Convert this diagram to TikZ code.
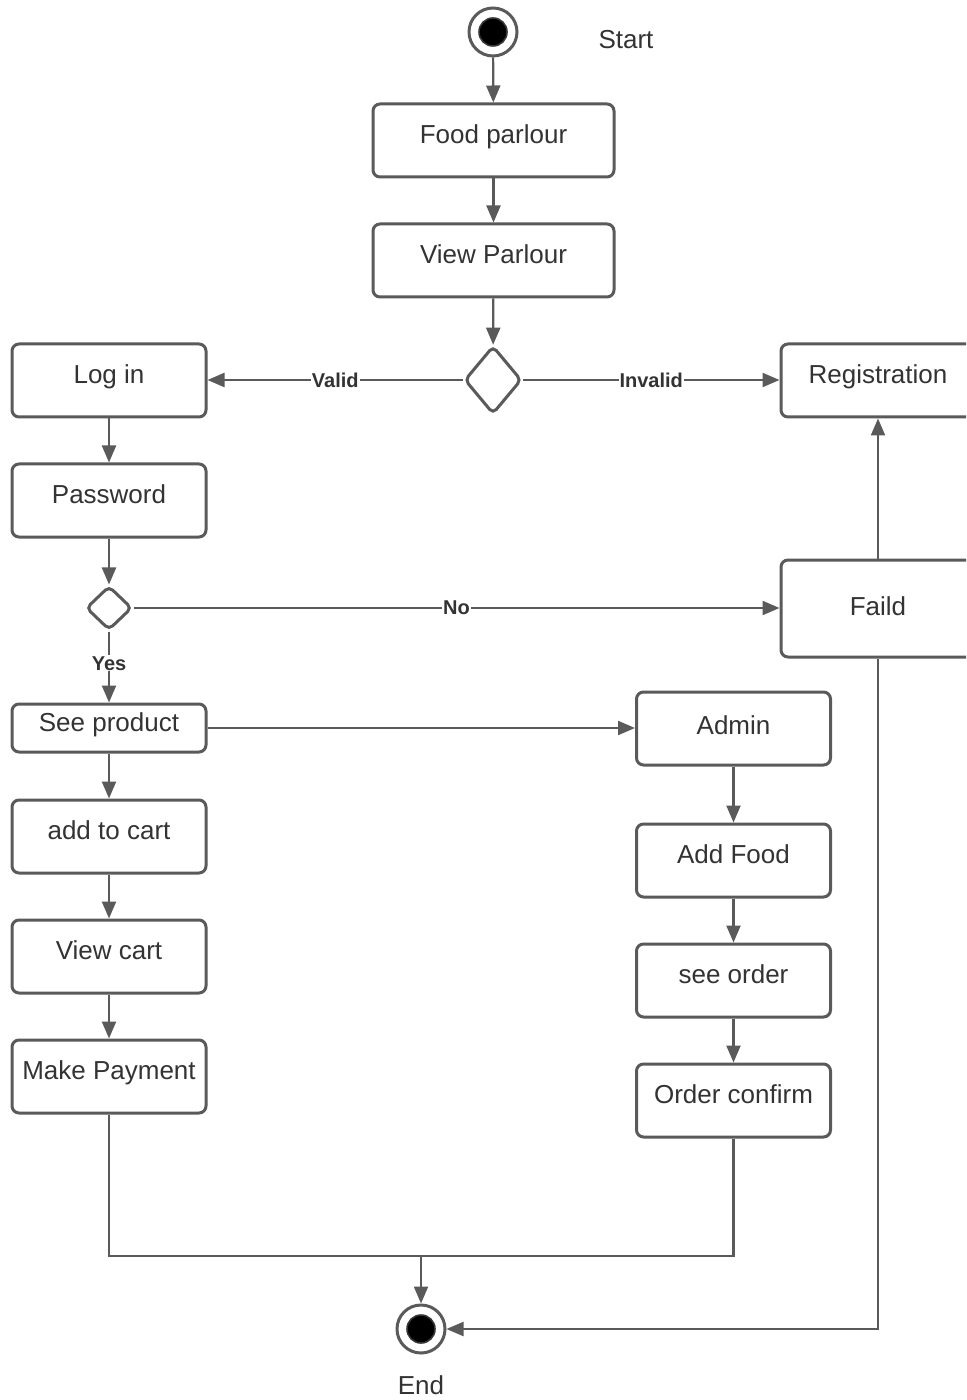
\documentclass[tikz,border=0pt]{standalone}
\usepackage{fontspec}
\setmainfont{Liberation Sans}
\usetikzlibrary{shapes.geometric,arrows.meta}
\definecolor{ln}{HTML}{5A5A5A}
\definecolor{tx}{HTML}{333333}
\begin{document}
\begin{tikzpicture}[x=0.5pt,y=-0.5pt,
  box/.style={draw=ln,line width=1.5pt,rounded corners=3.5pt,fill=white,
    inner sep=0pt,text=tx,font=\fontsize{13}{15}\selectfont,
    text height=9.5pt,text depth=6.5pt,
    minimum width=97pt,minimum height=36.5pt},
  wide/.style={minimum width=120.5pt},
  dec/.style={draw=ln,line width=1.5pt,diamond,rounded corners=2.5pt,fill=white,inner sep=0pt},
  flow/.style={draw=ln,line width=1.1pt,-{Triangle[length=8.5pt,width=7pt]},color=ln},
  plain/.style={draw=ln,line width=1.1pt},
  lbl/.style={fill=white,inner sep=0.5pt,text=tx,font=\bfseries\fontsize{10}{12}\selectfont},
  txt/.style={text=tx,font=\fontsize{13}{15}\selectfont}]
\clip (0,0) rectangle (966,1400);
\fill[white] (0,0) rectangle (966,1400);

% initial and final states
\node[circle,draw=ln,line width=1.5pt,fill=white,minimum size=24pt,inner sep=0pt] (start) at (493,32) {};
\node[circle,fill=black,draw=ln!60!black,line width=0.8pt,minimum size=14pt,inner sep=0pt] (startdot) at (start) {};
\node[txt] (starttxt) at (626,40) {Start};

\node[circle,draw=ln,line width=1.5pt,fill=white,minimum size=24pt,inner sep=0pt] (end) at (421,1329) {};
\node[circle,fill=black,draw=ln!60!black,line width=0.8pt,minimum size=14pt,inner sep=0pt] (enddot) at (end) {};
\node[txt] (endtxt) at (421,1385) {End};

% main column
\node[box,wide] (food) at (493.5,140.5) {Food parlour};
\node[box,wide] (view) at (493.5,260.5) {View Parlour};
\node[dec,minimum width=28.5pt,minimum height=34pt] (d1) at (493,380) {};

% user branch
\node[box] (login) at (109,380.5) {Log in};
\node[box] (pass) at (109,500.5) {Password};
\node[dec,minimum width=23pt,minimum height=22pt] (d2) at (109,608) {};
\node[box,minimum height=24pt] (seep) at (109,728) {See product};
\node[box] (cart) at (109,836.5) {add to cart};
\node[box] (vcart) at (109,956.5) {View cart};
\node[box] (pay) at (109,1076.5) {Make Payment};

% right side
\node[box] (reg) at (878,380.5) {Registration};
\node[box,minimum height=48.5pt,text depth=2.5pt] (faild) at (878,608.5) {Faild};

% admin branch
\node[box,text depth=4pt] (admin) at (733.5,728.5) {Admin};
\node[box] (addf) at (733.5,860.5) {Add Food};
\node[box] (seeo) at (733.5,980.5) {see order};
\node[box] (ordc) at (733.5,1100.5) {Order confirm};

\coordinate (merge) at (421,1256);

% connectors
\draw[flow] (start) -- (food);
\draw[flow] (food) -- (view);
\draw[flow] (view) -- (d1);
\draw[flow] (d1.west) -- node[lbl] {Valid} (login.east |- d1.west);
\draw[flow] (d1.east) -- node[lbl] {Invalid} (reg.west |- d1.east);
\draw[flow] (login) -- (pass);
\draw[flow] (pass) -- (d2);
\draw[flow] (d2.south) -- node[lbl,pos=0.45] {Yes} (seep.north);
\draw[flow] (d2.east) -- node[lbl] {No} (faild.west |- d2.east);
\draw[flow] (faild) -- (reg);
\draw[flow] (seep.east) -- (admin.west |- seep.east);
\draw[flow] (seep) -- (cart);
\draw[flow] (cart) -- (vcart);
\draw[flow] (vcart) -- (pay);
\draw[flow] (admin) -- (addf);
\draw[flow] (addf) -- (seeo);
\draw[flow] (seeo) -- (ordc);
\draw[plain] (pay.south) -- (pay.south |- merge) -- (ordc.south |- merge) -- (ordc.south);
\draw[flow] (merge) -- (end.north);
\draw[flow] (faild.south) |- (end.east);
\end{tikzpicture}
\end{document}
